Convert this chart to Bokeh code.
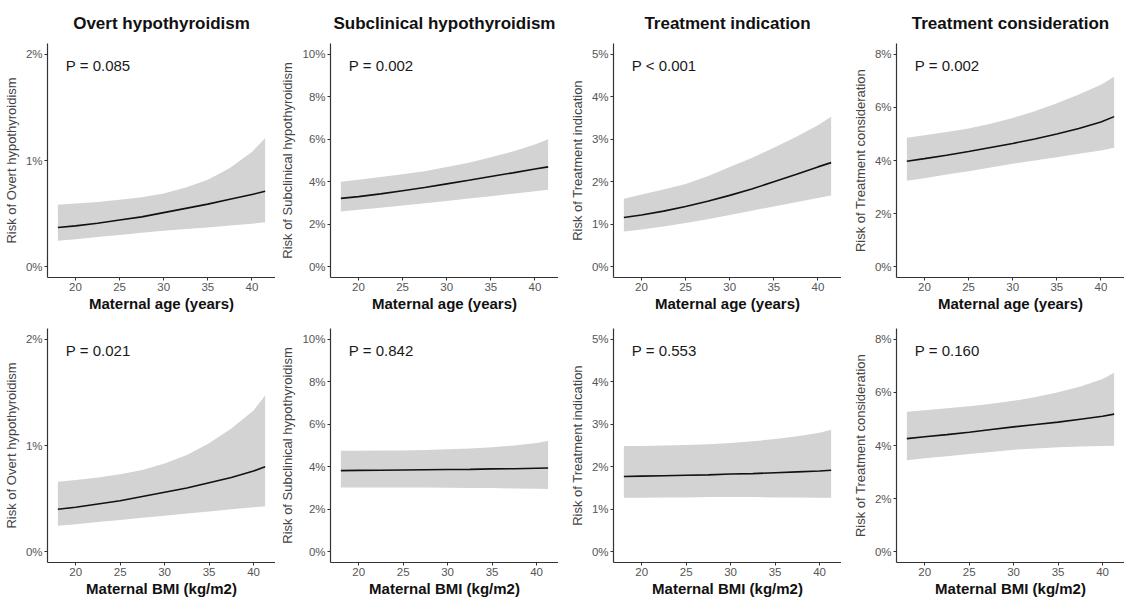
from bokeh.plotting import figure
from bokeh.layouts import column, row
from bokeh.models import FixedTicker, PrintfTickFormatter, Range1d, Label
from bokeh.embed import file_html
from bokeh.resources import INLINE

# ---- data (values in %) ----
outcomes = ["Overt hypothyroidism", "Subclinical hypothyroidism",
            "Treatment indication", "Treatment consideration"]
y_max = [2, 10, 5, 8]
y_step = [1, 2, 1, 2]

age = [18, 20, 22.5, 25, 27.5, 30, 32.5, 35, 37.5, 40, 41.5]
bmi = [18, 20, 22.5, 25, 27.5, 30, 32.5, 35, 37.5, 40, 41.3]
x_ticks = [20, 25, 30, 35, 40]

p_age = ["P = 0.085", "P = 0.002", "P < 0.001", "P = 0.002"]
p_bmi = ["P = 0.021", "P = 0.842", "P = 0.553", "P = 0.160"]

# age panels
age_fit = [
    [0.37, 0.385, 0.41, 0.44, 0.47, 0.51, 0.55, 0.59, 0.635, 0.68, 0.71],
    [3.22, 3.30, 3.43, 3.58, 3.73, 3.90, 4.07, 4.25, 4.42, 4.60, 4.70],
    [1.16, 1.22, 1.31, 1.42, 1.54, 1.68, 1.83, 2.00, 2.17, 2.35, 2.45],
    [3.97, 4.07, 4.20, 4.34, 4.49, 4.64, 4.81, 5.00, 5.20, 5.45, 5.65],
]
age_hi = [
    [0.585, 0.595, 0.61, 0.63, 0.655, 0.69, 0.745, 0.82, 0.93, 1.08, 1.21],
    [4.00, 4.10, 4.22, 4.35, 4.50, 4.70, 4.90, 5.15, 5.42, 5.75, 6.00],
    [1.60, 1.70, 1.82, 1.95, 2.13, 2.35, 2.56, 2.80, 3.05, 3.33, 3.53],
    [4.86, 4.95, 5.07, 5.20, 5.38, 5.60, 5.85, 6.15, 6.48, 6.85, 7.15],
]
age_lo = [
    [0.245, 0.26, 0.28, 0.30, 0.32, 0.34, 0.355, 0.37, 0.39, 0.405, 0.42],
    [2.60, 2.68, 2.78, 2.88, 2.99, 3.10, 3.21, 3.32, 3.44, 3.55, 3.63],
    [0.83, 0.88, 0.95, 1.03, 1.12, 1.22, 1.32, 1.42, 1.52, 1.62, 1.68],
    [3.24, 3.33, 3.47, 3.60, 3.74, 3.88, 4.00, 4.12, 4.25, 4.38, 4.48],
]
# BMI panels
bmi_fit = [
    [0.40, 0.42, 0.45, 0.48, 0.52, 0.56, 0.60, 0.65, 0.70, 0.76, 0.80],
    [3.82, 3.83, 3.84, 3.85, 3.86, 3.87, 3.88, 3.90, 3.91, 3.93, 3.94],
    [1.77, 1.78, 1.79, 1.80, 1.81, 1.83, 1.84, 1.86, 1.88, 1.90, 1.92],
    [4.26, 4.33, 4.41, 4.50, 4.60, 4.70, 4.79, 4.88, 4.99, 5.10, 5.18],
]
bmi_hi = [
    [0.66, 0.675, 0.70, 0.73, 0.77, 0.83, 0.91, 1.02, 1.16, 1.33, 1.47],
    [4.75, 4.75, 4.76, 4.77, 4.79, 4.82, 4.86, 4.92, 5.00, 5.12, 5.22],
    [2.49, 2.49, 2.50, 2.51, 2.53, 2.56, 2.60, 2.65, 2.72, 2.80, 2.87],
    [5.27, 5.33, 5.40, 5.48, 5.57, 5.68, 5.82, 6.00, 6.22, 6.50, 6.74],
]
bmi_lo = [
    [0.245, 0.26, 0.28, 0.30, 0.32, 0.34, 0.36, 0.38, 0.40, 0.42, 0.43],
    [3.02, 3.02, 3.02, 3.02, 3.02, 3.01, 3.00, 3.00, 2.98, 2.97, 2.96],
    [1.27, 1.27, 1.28, 1.28, 1.29, 1.29, 1.29, 1.28, 1.28, 1.27, 1.27],
    [3.45, 3.52, 3.60, 3.68, 3.76, 3.84, 3.89, 3.93, 3.96, 3.98, 3.99],
]

FONT = "Liberation Sans"
LEFT = [45, 55, 55, 55]


def panel(i, xs, fit, hi, lo, ptxt, xlabel, top):
    ymax = y_max[i]
    pad_y = 0.05 * ymax
    pad_x = 0.05 * (xs[-1] - xs[0])
    kw = dict(frame_width=228, frame_height=234,
              output_backend="svg", toolbar_location=None,
              x_range=Range1d(xs[0] - pad_x, xs[-1] + pad_x),
              y_range=Range1d(-pad_y, ymax + pad_y),
              min_border_left=LEFT[i], min_border_right=0,
              min_border_top=42 if top else 14,
              min_border_bottom=36)
    if top:
        kw["title"] = outcomes[i]
    p = figure(**kw)
    if top:
        p.title.align = "center"
        p.title.text_font = FONT
        p.title.text_font_size = "17px"
        p.title.text_font_style = "bold"
        p.title.text_color = "#111111"
        p.title.standoff = 22
    p.outline_line_color = None
    p.xgrid.visible = False
    p.ygrid.visible = False
    p.background_fill_color = "white"
    p.border_fill_color = "white"

    p.varea(x=xs, y1=lo, y2=hi, fill_color="#d3d3d3", fill_alpha=1.0)
    p.line(x=xs, y=fit, line_color="#111111", line_width=1.6)

    p.add_layout(Label(x=xs[0] + 0.9, y=0.945 * ymax, text=ptxt,
                       text_font=FONT, text_font_size="15px",
                       text_color="#1a1a1a", text_baseline="middle",
                       text_align="left"))

    for ax in (p.xaxis[0], p.yaxis[0]):
        ax.axis_line_color = "#333333"
        ax.axis_line_width = 1.2
        ax.major_tick_line_color = "#333333"
        ax.major_tick_in = 0
        ax.major_tick_out = 3
        ax.minor_tick_line_color = None
        ax.major_label_text_font = FONT
        ax.major_label_text_font_size = "11.5px"
        ax.major_label_text_color = "#555555"
        ax.major_label_standoff = 2
    p.xaxis.ticker = FixedTicker(ticks=x_ticks)
    p.yaxis.ticker = FixedTicker(ticks=list(range(0, ymax + 1, y_step[i])))
    p.yaxis.formatter = PrintfTickFormatter(format="%d%%")

    p.xaxis.axis_label = xlabel
    p.xaxis.axis_label_text_font = FONT
    p.xaxis.axis_label_text_font_size = "15px"
    p.xaxis.axis_label_text_font_style = "bold"
    p.xaxis.axis_label_text_color = "#111111"
    p.xaxis.axis_label_standoff = 1

    p.yaxis.axis_label = "Risk of " + outcomes[i]
    p.yaxis.axis_label_text_font = FONT
    p.yaxis.axis_label_text_font_size = "13px"
    p.yaxis.axis_label_text_font_style = "normal"
    p.yaxis.axis_label_text_color = "#444444"
    p.yaxis.axis_label_standoff = 4
    return p


top_row = [panel(i, age, age_fit[i], age_hi[i], age_lo[i], p_age[i],
                 "Maternal age (years)", True) for i in range(4)]
bot_row = [panel(i, bmi, bmi_fit[i], bmi_hi[i], bmi_lo[i], p_bmi[i],
                 "Maternal BMI (kg/m2)", False) for i in range(4)]

layout = column(row(*top_row, spacing=0), row(*bot_row, spacing=0), spacing=0)

html = file_html(layout, INLINE)
open("out.html", "w").write(html)
